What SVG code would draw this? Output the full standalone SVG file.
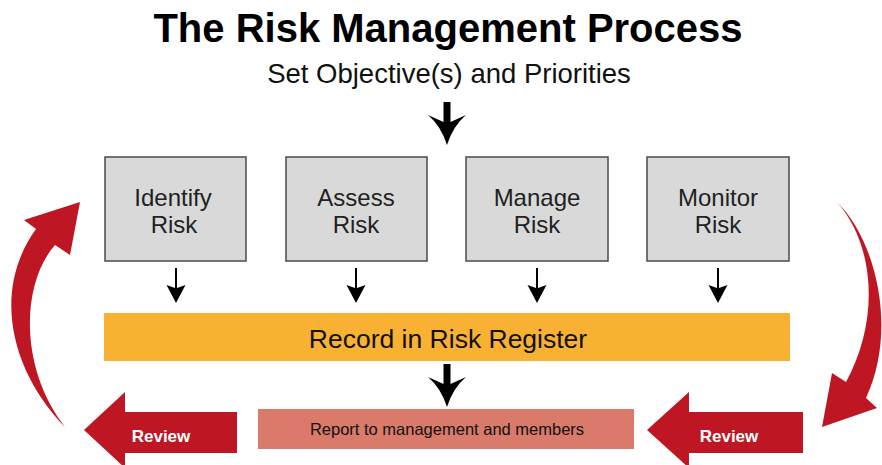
<svg xmlns="http://www.w3.org/2000/svg" width="882" height="465" viewBox="0 0 882 465">
  <defs>
    <style>
      .title { font-family: "Liberation Sans", Arial, sans-serif; font-weight: bold; font-size: 40px; fill: #000; }
      .sub { font-family: "Liberation Sans", Arial, sans-serif; font-size: 27.5px; fill: #111; }
      .box { fill: #d9d9d9; stroke: #4a4a4a; stroke-width: 1.5; }
      .boxtxt { font-family: "Liberation Sans", Arial, sans-serif; font-size: 24px; fill: #222; text-anchor: middle; }
      .reg { fill: #f8b133; }
      .regtxt { font-family: "Liberation Sans", Arial, sans-serif; font-size: 26.5px; fill: #111; text-anchor: middle; }
      .rep { fill: #d97a6a; }
      .reptxt { font-family: "Liberation Sans", Arial, sans-serif; font-size: 16.5px; fill: #111; text-anchor: middle; }
      .red { fill: #be1622; }
      .revtxt { font-family: "Liberation Sans", Arial, sans-serif; font-weight: bold; font-size: 17px; fill: #fff; }
      .thin { stroke: #000; stroke-width: 2; fill: none; }
    </style>
    <path id="bigArrow" d="M-3.5,0 H3.5 V20 L19,13 Q6,24 0,43 Q-6,24 -19,13 L-3.5,20 Z" fill="#000"/>
    <path id="smallArrow" d="M-1,0 H1 V20 L9.5,17 L0,35 L-9.5,17 L-1,20 Z" fill="#000"/>
  </defs>

  <text class="title" x="448" y="42" text-anchor="middle">The Risk Management Process</text>
  <text class="sub" x="449" y="83" text-anchor="middle">Set Objective(s) and Priorities</text>

  <g id="connectors">
    <use href="#bigArrow" x="447" y="102"/>
    <use href="#bigArrow" x="447" y="364"/>
    <use href="#smallArrow" x="176" y="268"/>
    <use href="#smallArrow" x="356" y="268"/>
    <use href="#smallArrow" x="537" y="268"/>
    <use href="#smallArrow" x="718" y="268"/>
    <path id="loop-left" class="red" d="M65,427 C10,370 -8,290 36,229 L24,220 L80,202 L70,255 L55,245 C20,285 20,370 65,427 Z"/>
    <path id="loop-right" class="red" d="M837,202 C876,240 898,330 866,398 L877,408 L822,427 L832,373 L846,382 C880,320 875,245 837,202 Z"/>
  </g>

  <g id="identify">
    <rect class="box" x="105" y="157" width="141" height="104"/>
    <text class="boxtxt" x="173" y="206">Identify</text>
    <text class="boxtxt" x="174" y="233">Risk</text>
  </g>
  <g id="assess">
    <rect class="box" x="286" y="157" width="141" height="104"/>
    <text class="boxtxt" x="356" y="206">Assess</text>
    <text class="boxtxt" x="356" y="233">Risk</text>
  </g>
  <g id="manage">
    <rect class="box" x="466" y="157" width="142" height="104"/>
    <text class="boxtxt" x="537" y="206">Manage</text>
    <text class="boxtxt" x="537" y="233">Risk</text>
  </g>
  <g id="monitor">
    <rect class="box" x="647" y="157" width="142" height="104"/>
    <text class="boxtxt" x="718" y="206">Monitor</text>
    <text class="boxtxt" x="718" y="233">Risk</text>
  </g>

  <g id="register">
    <rect class="reg" x="104" y="313" width="686" height="48"/>
    <text class="regtxt" x="448" y="348">Record in Risk Register</text>
  </g>

  <g id="report">
    <rect class="rep" x="258" y="409" width="376" height="40"/>
    <text class="reptxt" x="447" y="435">Report to management and members</text>
  </g>

  <g id="review-left">
    <path class="red" d="M84,430 L125,392 V412 H237 V453 H125 V468 Z"/>
    <text class="revtxt" x="161" y="442" text-anchor="middle">Review</text>
  </g>
  <g id="review-right">
    <path class="red" d="M647,430 L689,392 V412 H803 V453 H689 V468 Z"/>
    <text class="revtxt" x="729" y="442" text-anchor="middle">Review</text>
  </g>
</svg>
